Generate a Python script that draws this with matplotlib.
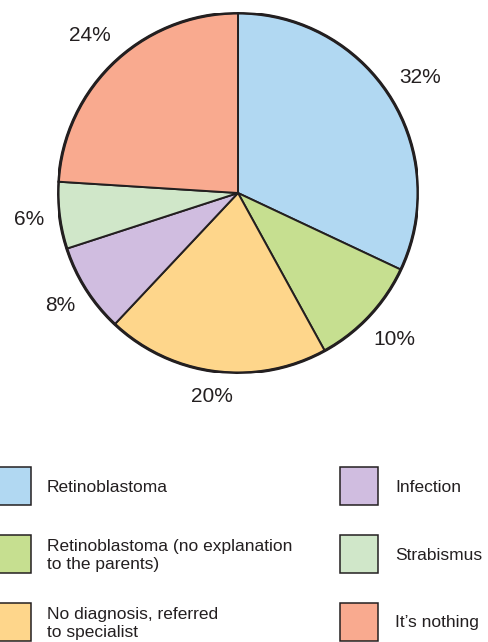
import matplotlib
matplotlib.use("Agg")
import matplotlib.pyplot as plt
from matplotlib.patches import Rectangle, Circle
import numpy as np

plt.rcParams['font.family'] = ['Liberation Sans', 'DejaVu Sans']

categories = [
    "Retinoblastoma",
    "Retinoblastoma (no explanation\nto the parents)",
    "No diagnosis, referred\nto specialist",
    "Infection",
    "Strabismus",
    "It\u2019s nothing",
]
shares = [32, 10, 20, 8, 6, 24]
colors = ["#B1D8F2", "#C6DF90", "#FED68B", "#D0BDE0", "#D0E7C9", "#F9AA8F"]
edge = "#231F20"

W, H = 489, 642
fig = plt.figure(figsize=(W / 100, H / 100), dpi=100)

# pie: centre (238, 193) px, radius 180 px
cx, cy, R = 238, 193, 180
ax = fig.add_axes([(cx - R) / W, (H - cy - R) / H, 2 * R / W, 2 * R / H])
wedges, _ = ax.pie(shares, colors=colors, startangle=90, counterclock=False,
                   radius=1.0,
                   wedgeprops=dict(edgecolor=edge, linewidth=1.4))
ax.add_patch(Circle((0, 0), 1.0, fill=False, edgecolor=edge, linewidth=2.2))
ax.set_xlim(-1, 1)
ax.set_ylim(-1, 1)
ax.axis("off")

label_dist = [1.20, 1.19, 1.14, 1.17, 1.17, 1.20]
for w, v, d in zip(wedges, shares, label_dist):
    ang = np.deg2rad((w.theta1 + w.theta2) / 2)
    ax.text(d * np.cos(ang), d * np.sin(ang), f"{v}%", ha="center",
            va="center", fontsize=15, color="#231F20")

# legend in pixel coordinates
lg = fig.add_axes([0, 0, 1, 1])
lg.set_xlim(0, W)
lg.set_ylim(H, 0)
lg.axis("off")
box = 38
col_x = [-7, 340]
text_x = [47, 395]
row_y = [486, 554, 622]
for i, (lab, c) in enumerate(zip(categories, colors)):
    col, row = divmod(i, 3)
    y = row_y[row]
    lg.add_patch(Rectangle((col_x[col], y - box / 2), box, box, facecolor=c,
                           edgecolor=edge, linewidth=1.1))
    lg.text(text_x[col], y + 1, lab, ha="left", va="center", fontsize=12.5,
            linespacing=1.25, color="#231F20")

fig.savefig("out.png", dpi=100)
